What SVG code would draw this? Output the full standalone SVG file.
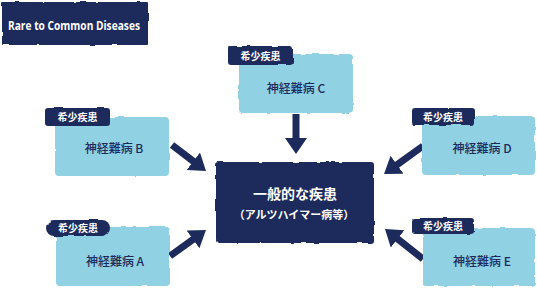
<svg xmlns="http://www.w3.org/2000/svg" width="537" height="288" viewBox="0 0 537 288">
  <defs>
    <filter id="rough" x="-5%" y="-10%" width="110%" height="120%">
      <feTurbulence type="fractalNoise" baseFrequency="0.09" numOctaves="2" seed="4" result="n"/>
      <feDisplacementMap in="SourceGraphic" in2="n" scale="3" xChannelSelector="R" yChannelSelector="G"/>
    </filter>
    <marker id="head" markerUnits="userSpaceOnUse" markerWidth="16" markerHeight="22" refX="1" refY="11" orient="auto">
      <path d="M0,0 L16,11 L0,22 z" fill="#1d2b5c"/>
    </marker>
    <style>
      .navy { fill: #1d2b5c; }
      .light { fill: #90d1e3; }
      .tagtxt { font-family: "Noto Sans CJK JP", sans-serif; font-size: 10px; font-weight: 700; fill: #ffffff; text-anchor: middle; }
      .nodetxt { font-family: "Noto Sans CJK JP", sans-serif; font-size: 12px; font-weight: 500; fill: #1d2b5c; text-anchor: middle; }
      .maintxt { font-family: "Noto Sans CJK JP", sans-serif; font-weight: 700; fill: #ffffff; text-anchor: middle; }
      .arrow { stroke: #1d2b5c; stroke-width: 7; fill: none; marker-end: url(#head); }
    </style>
  </defs>
  <rect width="537" height="288" fill="#ffffff"/>

  <g id="title">
    <rect x="2" y="2" width="146" height="43" rx="1" class="navy" filter="url(#rough)"/>
    <text x="8" y="29.5" font-family="'Open Sans', 'Liberation Sans', sans-serif" font-size="12.5" font-weight="700" fill="#ffffff" textLength="132" lengthAdjust="spacingAndGlyphs">Rare to Common Diseases</text>
  </g>

  <g id="connectors">
    <line class="arrow" x1="296" y1="114" x2="296" y2="139"/>
    <line class="arrow" x1="172" y1="145" x2="194.1" y2="161.9"/>
    <line class="arrow" x1="170" y1="256" x2="193.8" y2="238.8"/>
    <line class="arrow" x1="423" y1="146" x2="396.2" y2="165.3"/>
    <line class="arrow" x1="423" y1="259" x2="396.8" y2="238.3"/>
  </g>

  <g id="common">
    <rect x="216" y="162" width="158" height="81" rx="3" class="navy" filter="url(#rough)"/>
    <text x="295" y="199" class="maintxt" font-size="14">一般的な疾患</text>
    <text x="294" y="219" class="maintxt" font-size="11">（アルツハイマー病等）</text>
  </g>

  <g id="nodeC">
    <rect x="239" y="54" width="114" height="59" rx="4" class="light" filter="url(#rough)"/>
    <rect x="228" y="46" width="65" height="19" rx="3" class="navy" filter="url(#rough)"/>
    <text x="260.5" y="59.5" class="tagtxt">希少疾患</text>
    <text x="296" y="92.5" class="nodetxt">神経難病 C</text>
  </g>

  <g id="nodeB">
    <rect x="55" y="117" width="114" height="59" rx="4" class="light" filter="url(#rough)"/>
    <rect x="45" y="108" width="65" height="18" rx="3" class="navy" filter="url(#rough)"/>
    <text x="77.5" y="121" class="tagtxt">希少疾患</text>
    <text x="114" y="152.5" class="nodetxt">神経難病 B</text>
  </g>

  <g id="nodeA">
    <rect x="56" y="227" width="114" height="59" rx="4" class="light" filter="url(#rough)"/>
    <rect x="46" y="220" width="64" height="16" rx="8" class="navy" filter="url(#rough)"/>
    <text x="78" y="232" class="tagtxt">希少疾患</text>
    <text x="115" y="265.5" class="nodetxt">神経難病 A</text>
  </g>

  <g id="nodeD">
    <rect x="422" y="116" width="113" height="59" rx="4" class="light" filter="url(#rough)"/>
    <rect x="412" y="108" width="62" height="17" rx="3" class="navy" filter="url(#rough)"/>
    <text x="443" y="120.5" class="tagtxt">希少疾患</text>
    <text x="482" y="152.5" class="nodetxt">神経難病 D</text>
  </g>

  <g id="nodeE">
    <rect x="423" y="228" width="112" height="58" rx="4" class="light" filter="url(#rough)"/>
    <rect x="412" y="218" width="62" height="16" rx="3" class="navy" filter="url(#rough)"/>
    <text x="443" y="230" class="tagtxt">希少疾患</text>
    <text x="482" y="266" class="nodetxt">神経難病 E</text>
  </g>
</svg>
